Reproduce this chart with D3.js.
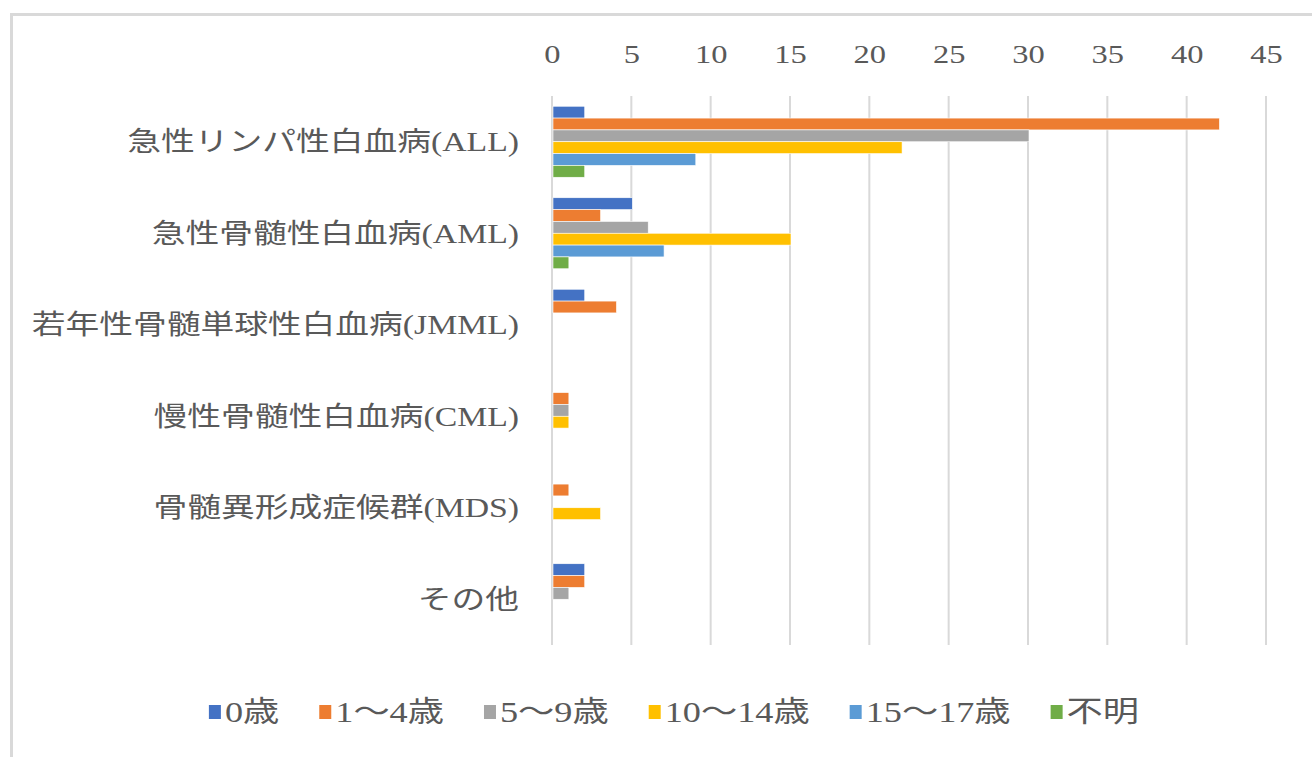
<!DOCTYPE html>
<html>
<head>
<meta charset="utf-8">
<script src="https://cdn.jsdelivr.net/npm/d3@7"></script>
<style>
  body { margin: 0; background: #fff; }
  svg text { font-family: "Liberation Serif", "Noto Sans CJK JP", serif; fill: #595959; }
  .axis .domain { display: none; }
</style>
</head>
<body>
<script>
(function(){

//data
var categories = ["急性リンパ性白血病(ALL)", "急性骨髄性白血病(AML)", "若年性骨髄単球性白血病(JMML)",
                  "慢性骨髄性白血病(CML)", "骨髄異形成症候群(MDS)", "その他"];
var seriesNames = ["0歳", "1～4歳", "5～9歳", "10～14歳", "15～17歳", "不明"];
var age0 = [2, 5, 2, 0, 0, 2];
var age1to4 = [42, 3, 4, 1, 1, 2];
var age5to9 = [30, 6, 0, 1, 0, 1];
var age10to14 = [22, 15, 0, 1, 3, 0];
var age15to17 = [9, 7, 0, 0, 0, 0];
var unknown = [2, 1, 0, 0, 0, 0];
var xTicks = [0, 5, 10, 15, 20, 25, 30, 35, 40, 45];

var seriesValues = [age0, age1to4, age5to9, age10to14, age15to17, unknown];
var colors = ["#4472C4", "#ED7D31", "#A5A5A5", "#FFC000", "#5B9BD5", "#70AD47"];

var width = 1312, height = 757;
var plotLeft = 552, plotRight = 1266, plotTop = 96, plotBottom = 645;
var stretch = "scale(1.25,1)"; //the text in the original is drawn wide

var svg = d3.select("body").append("svg")
    .attr("width", width)
    .attr("height", height);

//chart frame (cut off at right and bottom)
svg.append("path")
    .attr("d", "M11.5," + height + "V14.5H" + width)
    .attr("fill", "none")
    .attr("stroke", "#d9d9d9")
    .attr("stroke-width", 3);

var x = d3.scaleLinear().domain([0, 45]).range([plotLeft, plotRight]);

var y0 = d3.scaleBand()
    .domain(categories)
    .range([plotTop, plotBottom])
    .paddingInner(0.224)
    .paddingOuter(0.112);

var y1 = d3.scaleBand()
    .domain(seriesNames)
    .range([0, y0.bandwidth()]);

//gridlines
svg.append("g").selectAll("line")
    .data(xTicks)
    .enter().append("line")
    .attr("x1", function(d){ return x(d); })
    .attr("x2", function(d){ return x(d); })
    .attr("y1", plotTop)
    .attr("y2", plotBottom)
    .attr("stroke", "#d9d9d9")
    .attr("stroke-width", 2);

//top axis labels
var xAxis = d3.axisTop(x).tickValues(xTicks).tickSize(0).tickPadding(0);
var axisG = svg.append("g")
    .attr("class", "axis")
    .attr("transform", "translate(0,63)")
    .call(xAxis);
axisG.selectAll("text")
    .attr("transform", stretch)
    .style("font-size", "26px")
    .attr("fill", "#595959");

//category labels
svg.append("g").selectAll("text")
    .data(categories)
    .enter().append("text")
    .attr("transform", function(d){
        return "translate(519," + (y0(d) + y0.bandwidth() / 2) + ") " + stretch;
    })
    .attr("dy", "0.36em")
    .attr("text-anchor", "end")
    .style("font-size", "27px")
    .text(function(d){ return d; });

//bars
var groups = svg.append("g").selectAll("g")
    .data(categories)
    .enter().append("g")
    .attr("transform", function(d){ return "translate(0," + y0(d) + ")"; });

groups.selectAll("rect")
    .data(function(d, i){
        return seriesNames.map(function(s, j){
            return {series: s, value: seriesValues[j][i], color: colors[j]};
        });
    })
    .enter().append("rect")
    .filter(function(d){ return d.value > 0; })
    .attr("x", x(0) + 1)
    .attr("y", function(d){ return y1(d.series); })
    .attr("width", function(d){ return x(d.value) - x(0); })
    .attr("height", y1.bandwidth())
    .attr("fill", function(d){ return d.color; })
    .attr("stroke", "#fff")
    .attr("stroke-width", 0.6);

//legend
var legend = svg.append("g");
var items = legend.selectAll("g")
    .data(seriesNames)
    .enter().append("g");
items.append("rect")
    .attr("width", 12)
    .attr("height", 14)
    .attr("y", -7)
    .attr("fill", function(d, i){ return colors[i]; });
items.append("text")
    .attr("transform", "translate(16,0) " + stretch)
    .attr("dy", "0.36em")
    .style("font-size", "29px")
    .text(function(d){ return d; });

var xpos = 0, gap = 40, offsets = [];
items.each(function(){
    offsets.push(xpos);
    xpos += this.getBBox().width + gap;
});
var totalW = xpos - gap;
items.attr("transform", function(d, i){ return "translate(" + offsets[i] + ",0)"; });
legend.attr("transform", "translate(" + (674 - totalW / 2) + ",712)");

})();
</script>
</body>
</html>
